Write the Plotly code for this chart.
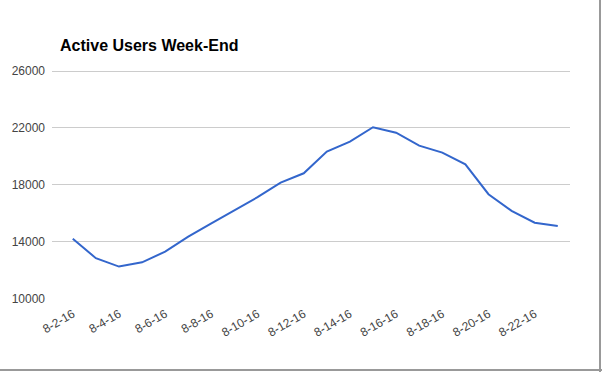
import plotly.graph_objects as go

dates = ["8-2-16", "8-3-16", "8-4-16", "8-5-16", "8-6-16", "8-7-16", "8-8-16", "8-9-16",
         "8-10-16", "8-11-16", "8-12-16", "8-13-16", "8-14-16", "8-15-16", "8-16-16",
         "8-17-16", "8-18-16", "8-19-16", "8-20-16", "8-21-16", "8-22-16", "8-23-16"]
active_users = [14230, 12860, 12270, 12570, 13320, 14370, 15310, 16200,
                17140, 18160, 18820, 20340, 21040, 22050, 21670,
                20760, 20270, 19450, 17350, 16180, 15350, 15120]
y_ticks = [10000, 14000, 18000, 22000, 26000]
x_ticks = dates[::2]

fig = go.Figure()
fig.add_trace(go.Scatter(
    x=dates, y=active_users, mode="lines",
    line=dict(color="#3366cc", width=2),
    hoverinfo="x+y", showlegend=False,
))

# plot box in pixels; 10000 sits at y=299, 26000 at y=71
PL, PR, PT, PB = 52, 570, 60, 299
pw, ph = PR - PL, PB - PT
units_per_px = 16000 / (299 - 71)
y_top = 26000 + (71 - PT) * units_per_px

fig.update_layout(
    width=602, height=372,
    margin=dict(l=PL, r=602 - PR, t=PT, b=372 - PB, autoexpand=False),
    paper_bgcolor="white", plot_bgcolor="white",
    font=dict(family="Liberation Sans, Arial, sans-serif", size=12, color="#444444"),
    title=dict(text="<b>Active Users Week-End</b>", x=60/602, xanchor="left",
               y=1 - 45/372, yanchor="middle",
               font=dict(size=16, color="#000000")),
    xaxis=dict(type="category", range=[-0.9, 21.53], tickmode="array",
               tickvals=x_ticks, ticktext=x_ticks, tickangle=-30,
               showgrid=False, showline=False, zeroline=False, ticks="",
               ticklabelstandoff=5,
               tickfont=dict(size=12, color="#444444")),
    yaxis=dict(range=[9995, y_top], tickmode="array", tickvals=y_ticks,
               ticktext=[str(v) for v in y_ticks],
               showgrid=True, gridcolor="#cccccc", gridwidth=1,
               zeroline=False, showline=False, ticks="", ticklabelstandoff=6,
               tickfont=dict(size=12, color="#444444")),
    shapes=[
        dict(type="line", xref="paper", yref="paper",
             x0=(600 - PL) / pw, x1=(600 - PL) / pw,
             y0=(PB + 5) / ph, y1=-(372 - PB) / ph,
             line=dict(color="#999999", width=2)),
        dict(type="line", xref="paper", yref="paper",
             x0=-PL / pw - 0.01, x1=(602 - PL) / pw,
             y0=-(370 - PB) / ph, y1=-(370 - PB) / ph,
             line=dict(color="#999999", width=2)),
    ],
)

fig.write_html("out.html", config={"displayModeBar": False},
               post_script="document.body.style.margin='0';")
